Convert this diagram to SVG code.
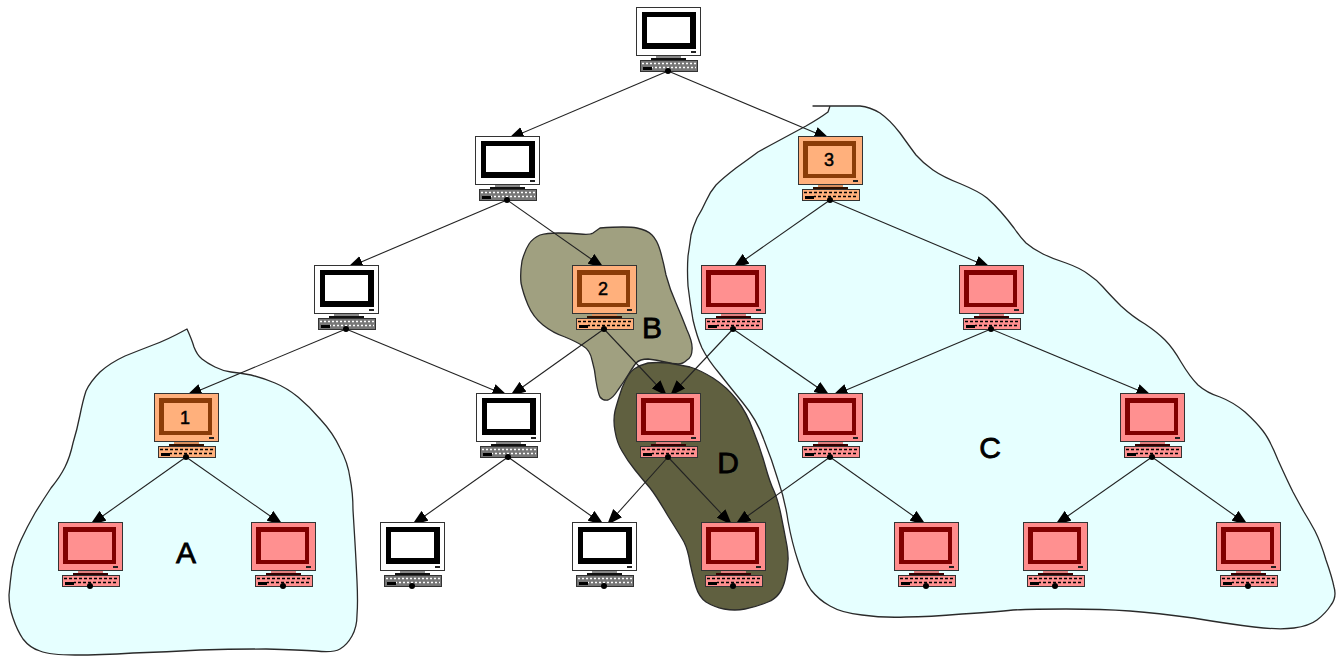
<svg xmlns="http://www.w3.org/2000/svg" width="1338" height="656" viewBox="0 0 1338 656">
<style>
.blob{stroke:#2a2a2a;stroke-width:1.3;stroke-linejoin:round}
.cy{fill:#e6ffff}
.edge{stroke:#222;stroke-width:1.1;fill:none;marker-end:url(#ah)}
.lbl{font-family:"Liberation Sans",Arial,sans-serif;font-size:30px;fill:#000;text-anchor:middle;stroke:#000;stroke-width:.8}
.num{font-family:"Liberation Sans",Arial,sans-serif;font-size:18px;fill:#000;text-anchor:middle;stroke:#000;stroke-width:.5}
.o{stroke:#333;stroke-width:1}
.kt{stroke:#fff;stroke-width:1.500;stroke-dasharray:2 2;fill:none}
.kd{stroke:#000;stroke-width:1.500;stroke-dasharray:3 2;fill:none}
</style>
<defs>
<marker id="ah" markerUnits="userSpaceOnUse" markerWidth="17" markerHeight="13" refX="16" refY="6.500" orient="auto"><path d="M0 .5L16 6.500L0 12.500Z" fill="#000"/></marker>
<g id="pcw">
<rect class="o" x=".5" y=".5" width="64" height="48" fill="#fff"/>
<rect x="6" y="5" width="54" height="37" fill="#000"/><rect x="11" y="10" width="43" height="26" fill="#fff"/>
<rect x="55" y="44" width="5" height="2" fill="#222"/>
<rect x="20" y="49" width="25" height="2" fill="#888"/><rect x="15" y="51" width="35" height="2" fill="#111"/>
<rect class="o" x="4.500" y="53.500" width="57" height="11" fill="#777"/><path class="kt" d="M6 56.500H60"/><path class="kt" d="M16 60.500H60" stroke-dashoffset="1"/><rect x="7" y="60" width="9" height="3" fill="#000"/>
<circle cx="32" cy="64" r="3" fill="#000"/>
</g>
<g id="pcp">
<rect class="o" x=".5" y=".5" width="64" height="48" fill="#ff8c8c"/>
<rect x="5" y="5" width="53" height="37" fill="#800000"/><rect x="10" y="10" width="44" height="28" fill="#ff9090"/>
<rect x="55" y="44" width="5" height="2" fill="#222"/>
<rect x="20" y="49" width="25" height="2" fill="#e08080"/><rect x="15" y="51" width="35" height="2" fill="#300"/>
<rect class="o" x="4.500" y="53.500" width="57" height="11" fill="#ff9090"/><path class="kd" stroke-width="1" d="M6 56.500H60"/><path class="kd" stroke="#900000" d="M16 60.500H60" stroke-dashoffset="1"/><rect x="7" y="60" width="9" height="3" fill="#000"/>
<circle cx="32" cy="64" r="3" fill="#000"/>
</g>
<g id="pco">
<rect class="o" x=".5" y=".5" width="64" height="48" fill="#ffb07c"/>
<rect x="5" y="5" width="53" height="37" fill="#8a3c08"/><rect x="10" y="10" width="44" height="28" fill="#ffb07c"/>
<rect x="55" y="44" width="5" height="2" fill="#222"/>
<rect x="20" y="49" width="25" height="2" fill="#d89060"/><rect x="15" y="51" width="35" height="2" fill="#301000"/>
<rect class="o" x="4.500" y="53.500" width="57" height="11" fill="#ffb07c"/><path class="kd" d="M6 56.500H60"/><path class="kd" stroke-dashoffset="1" d="M16 60.500H60"/><rect x="7" y="60" width="9" height="3" fill="#000"/>
<circle cx="32" cy="64" r="3" fill="#000"/>
</g>
</defs>
<rect width="1338" height="656" fill="#fff"/>
<g id="regions">
<path id="regionC" class="blob cy" d="M813 106L830 106L828 112Q820 118 806 126Q793 133 780 140Q767 147 758 152Q750 158 736 168Q723 178 716 185Q710 192 706 201Q702 210 697 218Q693 227 691 235Q690 243 688 256Q687 270 688 286Q690 303 693 320Q697 337 702 348Q708 360 719 373Q730 387 743 403Q757 420 764 440Q772 460 778 480Q785 500 788 521Q792 543 798 561Q804 580 811 590Q819 600 830 606Q842 613 862 615Q883 618 906 617Q929 617 962 614Q996 612 1013 610Q1030 609 1066 609Q1102 609 1130 611Q1157 613 1193 618Q1229 624 1254 627Q1279 630 1294 628Q1309 626 1317 620Q1326 613 1331 605Q1337 597 1334 587Q1332 577 1326 560Q1321 543 1315 531Q1309 520 1304 512Q1300 505 1293 492Q1287 480 1278 460Q1270 440 1263 431Q1257 423 1245 412Q1233 402 1220 397Q1207 393 1198 385Q1190 377 1181 362Q1173 348 1165 340Q1157 332 1145 324Q1133 317 1121 306Q1110 295 1103 287Q1097 280 1088 274Q1080 268 1066 263Q1053 259 1043 254Q1033 249 1026 243Q1020 237 1014 228Q1008 220 1001 212Q995 205 987 198Q980 192 961 184Q943 177 933 170Q923 163 916 155Q910 147 900 133Q890 120 880 113Q870 107 860 106L830 106Z"/>
<path id="regionA" class="blob cy" d="M187 329Q192 340 194 347Q197 355 202 359Q207 363 215 367Q223 371 231 372Q240 373 251 375Q263 378 275 383Q287 388 298 397Q310 407 321 420Q333 433 340 448Q348 463 350 478Q353 493 353 510Q354 527 355 543Q356 560 357 581Q358 603 357 615Q357 627 352 636Q347 645 340 649Q333 653 316 651Q300 650 266 649Q233 649 200 650Q167 652 133 653Q100 655 75 655Q50 655 40 651Q30 648 23 639Q17 630 13 618Q9 607 9 595Q10 583 12 568Q15 553 21 540Q27 527 35 513Q43 500 51 488Q60 477 65 467Q70 457 73 443Q77 430 80 415Q83 400 86 391Q90 382 100 372Q110 363 125 356Q140 350 153 345Q167 340 187 329Z"/>
<path id="regionB" class="blob" fill="#a0a080" d="M593 233L600 228Q627 226 637 228Q647 230 652 235Q657 240 660 250Q663 260 666 275Q670 290 676 303Q682 317 687 330Q693 343 692 350Q692 357 687 360Q683 364 678 364Q673 364 665 362Q657 360 648 359Q640 359 636 363Q633 367 628 375Q623 383 618 390Q613 398 608 400Q603 401 600 397Q598 393 596 381Q595 370 592 360Q590 350 583 346Q577 342 565 337Q553 333 543 325Q533 317 528 305Q523 293 521 283Q520 273 522 261Q525 250 529 244Q533 238 540 235Q547 233 558 233Q570 233 580 234Q590 235 593 233Z"/>
<path id="regionD" class="blob" fill="#606040" d="M615 411Q617 403 622 388Q628 373 634 369Q640 365 648 363Q657 362 668 363Q680 365 690 367Q700 370 713 378Q727 387 737 400Q747 413 753 430Q760 447 765 465Q770 483 774 491Q778 500 781 515Q784 530 787 546Q790 563 785 580Q781 597 768 602Q756 607 745 609Q735 611 724 609Q714 607 706 602Q699 597 696 587Q693 577 690 563Q688 550 684 542Q680 535 668 516Q657 497 650 488Q643 480 635 470Q627 460 622 451Q617 443 615 431Q613 420 615 411Z"/>
</g>
<g id="connectors">
<line class="edge" x1="668" y1="71" x2="508" y2="139"/>
<line class="edge" x1="668" y1="71" x2="830" y2="139"/>
<line class="edge" x1="507" y1="200" x2="347" y2="268"/>
<line class="edge" x1="507" y1="200" x2="604" y2="268"/>
<line class="edge" x1="830" y1="200" x2="733" y2="268"/>
<line class="edge" x1="830" y1="200" x2="991" y2="268"/>
<line class="edge" x1="346" y1="329" x2="186" y2="396"/>
<line class="edge" x1="346" y1="329" x2="508" y2="396"/>
<line class="edge" x1="604" y1="329" x2="510" y2="396"/>
<line class="edge" x1="604" y1="329" x2="667" y2="396"/>
<line class="edge" x1="733" y1="329" x2="670" y2="396"/>
<line class="edge" x1="733" y1="329" x2="830" y2="396"/>
<line class="edge" x1="991" y1="329" x2="832" y2="396"/>
<line class="edge" x1="991" y1="329" x2="1152" y2="396"/>
<line class="edge" x1="186" y1="457" x2="90" y2="525"/>
<line class="edge" x1="186" y1="457" x2="283" y2="525"/>
<line class="edge" x1="508" y1="457" x2="412" y2="525"/>
<line class="edge" x1="508" y1="457" x2="604" y2="525"/>
<line class="edge" x1="668" y1="457" x2="607" y2="525"/>
<line class="edge" x1="668" y1="457" x2="732" y2="525"/>
<line class="edge" x1="830" y1="457" x2="735" y2="525"/>
<line class="edge" x1="830" y1="457" x2="926" y2="525"/>
<line class="edge" x1="1152" y1="457" x2="1055" y2="525"/>
<line class="edge" x1="1152" y1="457" x2="1248" y2="525"/>
</g>
<g id="n0" transform="translate(636 7)"><use href="#pcw"/></g>
<g id="n1" transform="translate(475 136)"><use href="#pcw"/></g>
<g id="n2" transform="translate(798 136)"><use href="#pco"/><text class="num" x="31" y="30">3</text></g>
<g id="n3" transform="translate(314 265)"><use href="#pcw"/></g>
<g id="n4" transform="translate(572 265)"><use href="#pco"/><text class="num" x="31" y="30">2</text></g>
<g id="n5" transform="translate(701 265)"><use href="#pcp"/></g>
<g id="n6" transform="translate(959 265)"><use href="#pcp"/></g>
<g id="n7" transform="translate(154 393)"><use href="#pco"/><text class="num" x="31" y="31">1</text></g>
<g id="n8" transform="translate(476 393)"><use href="#pcw"/></g>
<g id="n9" transform="translate(636 393)"><use href="#pcp"/></g>
<g id="n10" transform="translate(798 393)"><use href="#pcp"/></g>
<g id="n11" transform="translate(1120 393)"><use href="#pcp"/></g>
<g id="n12" transform="translate(58 522)"><use href="#pcp"/></g>
<g id="n13" transform="translate(251 522)"><use href="#pcp"/></g>
<g id="n14" transform="translate(380 522)"><use href="#pcw"/></g>
<g id="n15" transform="translate(572 522)"><use href="#pcw"/></g>
<g id="n16" transform="translate(701 522)"><use href="#pcp"/></g>
<g id="n17" transform="translate(894 522)"><use href="#pcp"/></g>
<g id="n18" transform="translate(1023 522)"><use href="#pcp"/></g>
<g id="n19" transform="translate(1216 522)"><use href="#pcp"/></g>
<g id="labels">
<text class="lbl" x="186" y="563">A</text>
<text class="lbl" x="652" y="338">B</text>
<text class="lbl" x="990" y="458">C</text>
<text class="lbl" x="728" y="473">D</text>
</g>
</svg>
